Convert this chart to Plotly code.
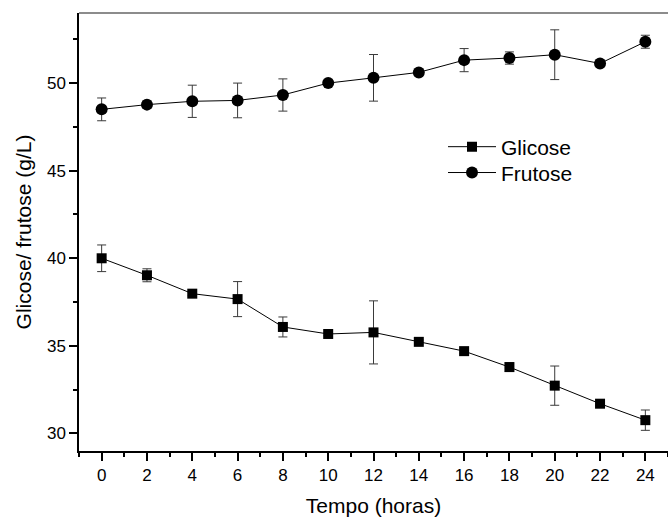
import plotly.graph_objects as go

# Sampling times (hours)
tempo = [0, 2, 4, 6, 8, 10, 12, 14, 16, 18, 20, 22, 24]

# Glucose concentration (g/L) and standard deviation
glicose = [40.0, 39.03, 37.98, 37.67, 36.08, 35.68, 35.77, 35.23, 34.70, 33.79, 32.73, 31.70, 30.76]
glicose_dp = [0.76, 0.37, 0.12, 1.0, 0.57, 0.1, 1.8, 0.12, 0.12, 0.25, 1.12, 0.12, 0.58]

# Fructose concentration (g/L) and standard deviation
frutose = [48.50, 48.77, 48.96, 49.01, 49.32, 50.0, 50.30, 50.61, 51.31, 51.43, 51.62, 51.12, 52.36]
frutose_dp = [0.65, 0.2, 0.92, 0.99, 0.92, 0.1, 1.33, 0.1, 0.66, 0.35, 1.42, 0.1, 0.37]

FONT = "Liberation Sans, Arial, Helvetica, sans-serif"
ERR_COLOR = "#3a3a3a"

fig = go.Figure()

fig.add_trace(go.Scatter(
    x=tempo, y=glicose, name="Glicose", mode="lines+markers",
    line=dict(color="black", width=1),
    marker=dict(symbol="square", size=10, color="black"),
    error_y=dict(type="data", array=glicose_dp, visible=True,
                 color=ERR_COLOR, thickness=1, width=4.5),
    legend="legend",
))

fig.add_trace(go.Scatter(
    x=tempo, y=frutose, name="Frutose", mode="lines+markers",
    line=dict(color="black", width=1),
    marker=dict(symbol="circle", size=12, color="black"),
    error_y=dict(type="data", array=frutose_dp, visible=True,
                 color=ERR_COLOR, thickness=1, width=4.5),
    legend="legend2",
))

legend_style = dict(
    xanchor="left", yanchor="middle",
    bgcolor="rgba(0,0,0,0)", borderwidth=0,
    font=dict(size=21, family=FONT),
    itemwidth=48,
)

fig.update_layout(
    width=668, height=518,
    margin=dict(l=79, r=0, t=13, b=67),
    paper_bgcolor="white", plot_bgcolor="white",
    font=dict(family=FONT, color="black", size=17),
    showlegend=True,
    legend=dict(x=0.618, y=0.694, **legend_style),
    legend2=dict(x=0.618, y=0.635, **legend_style),
    xaxis=dict(
        range=[-1, 25], tick0=0, dtick=2,
        showgrid=False, zeroline=False,
        showline=True, linecolor="black", linewidth=1.5,
        ticks="outside", ticklen=8, tickwidth=1.5, tickcolor="black",
        minor=dict(dtick=1, ticks="outside", ticklen=4, tickwidth=1.5, tickcolor="black"),
        tickfont=dict(size=17),
        title=dict(text="Tempo (horas)", font=dict(size=21), standoff=14),
    ),
    yaxis=dict(
        range=[29, 54], tick0=30, dtick=5,
        showgrid=False, zeroline=False,
        showline=True, linecolor="black", linewidth=1.5,
        ticks="outside", ticklen=8, tickwidth=1.5, tickcolor="black",
        minor=dict(dtick=2.5, ticks="outside", ticklen=4, tickwidth=1.5, tickcolor="black"),
        tickfont=dict(size=17),
        title=dict(text="Glicose/ frutose (g/L)", font=dict(size=21), standoff=10),
    ),
    shapes=[dict(type="line", xref="paper", yref="paper",
                 x0=0, x1=1, y0=1, y1=1,
                 line=dict(color="#666666", width=1.5))],
)

fig.write_html("out.html")
